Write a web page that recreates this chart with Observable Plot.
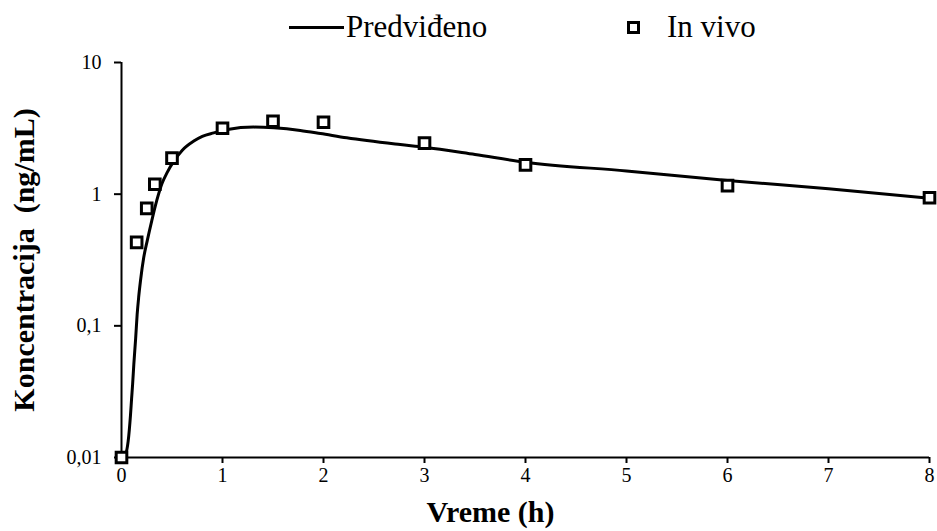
<!DOCTYPE html>
<html>
<head>
<meta charset="utf-8">
<script src="https://cdn.jsdelivr.net/npm/d3@7"></script>
<script src="https://cdn.jsdelivr.net/npm/@observablehq/plot@0.6"></script>
<style>
  html, body { margin: 0; padding: 0; background: #fff; }
  #wrap { width: 937px; height: 531px; position: relative; font-family: "Liberation Serif", serif; }
  #legend { position: relative; height: 50px; width: 937px; }
  .lg-line { position: absolute; left: 289px; top: 26px; width: 55px; height: 3px; background: #000; }
  .lg-text { position: absolute; top: 9px; font-size: 31px; line-height: 36px; color: #000; font-family: "Liberation Serif", serif; }
  .lg-sq { position: absolute; left: 627px; top: 21px; width: 7px; height: 7px; border: 3px solid #000; background: #fff; }
  svg { display: block; }
  svg text { font-family: "Liberation Serif", serif; }
  g[aria-label="x-axis label"] text, g[aria-label="y-axis label"] text { font-weight: bold; font-size: 30px; }
</style>
</head>
<body>
<div id="wrap">
  <div id="legend">
    <div class="lg-line"></div>
    <div class="lg-text" style="left:346px">Predviđeno</div>
    <div class="lg-sq"></div>
    <div class="lg-text" style="left:667px">In vivo</div>
  </div>
  <div id="chart"></div>
</div>
<script>
// Predicted curve (Predviđeno)
const predT = [0, 0.04, 0.066, 0.089, 0.1, 0.11, 0.122, 0.14, 0.155, 0.17, 0.188, 0.22, 0.254, 0.3, 0.35, 0.4, 0.45, 0.518, 0.6, 0.716, 0.8, 0.914, 1.05, 1.31, 1.51, 1.77, 1.97, 2.23, 2.76, 3, 3.5, 4, 5, 6, 7, 8];
const predC = [0.01, 0.0106, 0.0133, 0.021, 0.028, 0.036, 0.051, 0.08, 0.122, 0.165, 0.22, 0.33, 0.44, 0.63, 0.9, 1.2, 1.45, 1.78, 2.15, 2.53, 2.75, 2.92, 3.1, 3.23, 3.19, 3.05, 2.89, 2.68, 2.38, 2.27, 2.0, 1.75, 1.5, 1.27, 1.1, 0.93];
// Observed (In vivo)
const inT = [0, 0.15, 0.25, 0.33, 0.5, 1, 1.5, 2, 3, 4, 6, 8];
const inC = [0.01, 0.43, 0.78, 1.19, 1.88, 3.17, 3.58, 3.52, 2.44, 1.67, 1.16, 0.94];
// Axes
const xTicks = [0, 1, 2, 3, 4, 5, 6, 7, 8];
const yTicks = [0.01, 0.1, 1, 10];
const xLabel = "Vreme (h)";
const yLabel = "Koncentracija  (ng/mL)";

const pred = predT.map((t, i) => ({t, c: predC[i]}));
const obs = inT.map((t, i) => ({t, c: inC[i]}));

const chart = Plot.plot({
  width: 937,
  height: 481,
  marginTop: 12,
  marginLeft: 121,
  marginRight: 8,
  marginBottom: 74,
  style: {fontFamily: "Liberation Serif, serif", fontSize: "20px", color: "#000", background: "#fff"},
  x: {domain: [0, 8]},
  y: {type: "log", domain: [0.01, 10]},
  marks: [
    Plot.axisX({ticks: xTicks, tickSize: 6, strokeWidth: 2, tickPadding: 4, fontSize: 20,
      label: xLabel, labelAnchor: "center", labelArrow: "none", labelOffset: 64}),
    Plot.axisY({ticks: yTicks, tickSize: 7, strokeWidth: 2, tickPadding: 13, fontSize: 20,
      tickFormat: d => String(d).replace(".", ","),
      label: yLabel, labelAnchor: "center", labelArrow: "none", labelOffset: 109}),
    Plot.ruleY([0.01], {strokeWidth: 2}),
    Plot.ruleX([0], {strokeWidth: 2}),
    Plot.line(pred, {x: "t", y: "c", stroke: "#000", strokeWidth: 3, curve: "monotone-x"}),
    Plot.dot(obs, {x: "t", y: "c", symbol: "square", r: 6, stroke: "#000", strokeWidth: 3, fill: "#fff"})
  ]
});
document.getElementById("chart").appendChild(chart);
// Excel centres the x title slightly left of the plot centre
const xl = chart.querySelector('g[aria-label="x-axis label"]');
if (xl) xl.setAttribute("transform", (xl.getAttribute("transform") || "") + " translate(-35,0)");
</script>
</body>
</html>
